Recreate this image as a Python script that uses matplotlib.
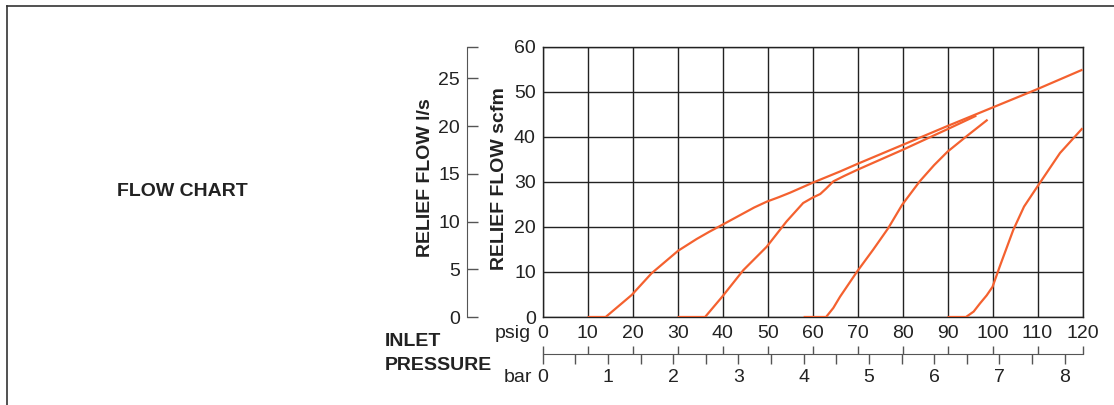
import matplotlib.pyplot as plt
import matplotlib.lines as mlines

plt.rcParams['font.family'] = ['Liberation Sans', 'DejaVu Sans']

# relief flow curves, (inlet pressure psig, relief flow scfm)
set10_psig = [10, 14, 19.8, 24.2, 30.1, 34.2, 37, 39.8, 44.6, 47, 49.8, 52.5, 55, 57.5, 60,
              66.1, 70, 80, 90, 100, 110, 120]
set10_scfm = [0, 0, 4.9, 9.7, 14.7, 17.3, 18.9, 20.4, 23.0, 24.3, 25.6, 26.6, 27.6, 28.7, 29.8,
              32.3, 34.0, 38.2, 42.4, 46.5, 50.6, 54.9]

set30_psig = [30, 36.1, 39.9, 44.6, 49.8, 54.2, 57.9, 60, 61.7, 63, 64.6, 67, 70, 80, 90, 96.4]
set30_scfm = [0, 0, 4.5, 10.4, 15.6, 21.2, 25.3, 26.5, 27.3, 28.5, 30.1, 31.3, 32.7, 37.1, 41.7, 44.7]

set60_psig = [58, 63, 64.6, 66.1, 69.9, 73.5, 76.8, 79.9, 83.8, 87, 90, 94.2, 98.9]
set60_scfm = [0, 0, 2.0, 4.5, 10.1, 15.0, 19.7, 24.9, 30.1, 33.7, 36.7, 40.1, 43.8]

set90_psig = [90, 94.1, 95.8, 97.2, 98.7, 100, 101.6, 104.6, 107, 110, 115, 120]
set90_scfm = [0, 0, 1.2, 3.0, 4.8, 6.7, 11.2, 19.3, 24.5, 29.0, 36.4, 41.9]

psig_ticks = [0, 10, 20, 30, 40, 50, 60, 70, 80, 90, 100, 110, 120]
bar_ticks = [0, 1, 2, 3, 4, 5, 6, 7, 8]
ls_ticks = [0, 5, 10, 15, 20, 25]

PSI_PER_BAR = 14.5038
LS_PER_SCFM = 0.4719

CURVE_COLOR = '#f4612f'
TICK_SIZE = 14
LABEL_SIZE = 14

W, H = 1114, 405
fig = plt.figure(figsize=(W / 100, H / 100), dpi=100)


def px_box(x0, y0, x1, y1):
    # pixel box (top-left origin) -> figure fraction rect
    return [x0 / W, 1 - y1 / H, (x1 - x0) / W, (y1 - y0) / H]


# main chart
ax = fig.add_axes(px_box(542.7, 46.7, 1082.5, 317))
for xs, ys in [(set10_psig, set10_scfm), (set30_psig, set30_scfm),
               (set60_psig, set60_scfm), (set90_psig, set90_scfm)]:
    ax.plot(xs, ys, '-', color=CURVE_COLOR, lw=1.6, solid_capstyle='butt',
            solid_joinstyle='round', zorder=3)
ax.set_xlim(0, 120)
ax.set_ylim(0, 60)
ax.set_xticks(psig_ticks)
ax.set_yticks(range(0, 61, 10))
ax.grid(True, color='#222222', lw=1.0)
ax.tick_params(length=0, labelsize=TICK_SIZE, colors='#222222')
ax.tick_params(axis='y', pad=5)
ax.set_xticklabels([])
for sp in ax.spines.values():
    sp.set_color('#222222')
    sp.set_linewidth(1.0)

# relief flow l/s scale
lax = fig.add_axes(px_box(466.7, 46.7, 470, 317))
lax.set_ylim(0, 60 * LS_PER_SCFM)
lax.set_xticks([])
lax.set_yticks(ls_ticks)
lax.set_yticks([60 * LS_PER_SCFM], minor=True)
lax.tick_params(axis='y', which='both', direction='in', length=8, width=1.0,
                colors='#555555', labelsize=TICK_SIZE, pad=5)
lax.tick_params(axis='y', labelcolor='#222222')
for k in ['top', 'right', 'bottom']:
    lax.spines[k].set_visible(False)
lax.spines['left'].set_color('#555555')
lax.patch.set_visible(False)

# inlet pressure scales (bar below, psig above)
bax = fig.add_axes(px_box(542.7, 353.5, 1082.5, 354))
bax.set_xlim(0, 120)
bax.set_yticks([])
bax.set_xticks([b * PSI_PER_BAR for b in bar_ticks])
bax.set_xticklabels([str(b) for b in bar_ticks])
bax.set_xticks([(b + 0.5) * PSI_PER_BAR for b in bar_ticks[:-1]], minor=True)
bax.tick_params(axis='x', which='both', direction='out', length=7, width=1.0,
                colors='#555555', labelsize=TICK_SIZE, pad=4)
bax.tick_params(axis='x', labelcolor='#222222')
for k in ['top', 'left', 'right']:
    bax.spines[k].set_visible(False)
bax.spines['bottom'].set_color('#555555')
bax.patch.set_visible(False)

pax = bax.twiny()
pax.set_xlim(0, 120)
pax.set_xticks(psig_ticks)
pax.set_xticklabels([str(p) for p in psig_ticks])
pax.tick_params(axis='x', direction='out', length=6, width=1.0,
                colors='#555555', labelsize=TICK_SIZE, pad=2)
pax.tick_params(axis='x', labelcolor='#222222')
for sp in pax.spines.values():
    sp.set_visible(False)

# texts
fig.text(425.7 / W, 1 - 178 / H, 'RELIEF FLOW l/s', rotation=90, ha='center', va='center',
         fontsize=LABEL_SIZE, fontweight='bold', color='#222222')
fig.text(500 / W, 1 - 179 / H, 'RELIEF FLOW scfm', rotation=90, ha='center', va='center',
         fontsize=LABEL_SIZE, fontweight='bold', color='#222222')
fig.text(182 / W, 1 - 191 / H, 'FLOW CHART', ha='center', va='center',
         fontsize=LABEL_SIZE, fontweight='bold', color='#222222')
fig.text(385 / W, 1 - 341 / H, 'INLET', ha='left', va='center',
         fontsize=LABEL_SIZE, fontweight='bold', color='#222222')
fig.text(385 / W, 1 - 366 / H, 'PRESSURE', ha='left', va='center',
         fontsize=LABEL_SIZE, fontweight='bold', color='#222222')
fig.text(531 / W, 1 - 334 / H, 'psig', ha='right', va='center',
         fontsize=TICK_SIZE, color='#222222')
fig.text(532 / W, 1 - 377 / H, 'bar', ha='right', va='center',
         fontsize=TICK_SIZE, color='#222222')

# frame: top and left edges
fig.add_artist(mlines.Line2D([6.5 / W, 1], [1 - 6 / H, 1 - 6 / H], transform=fig.transFigure,
                             color='#333333', lw=1.2))
fig.add_artist(mlines.Line2D([6.5 / W, 6.5 / W], [0, 1 - 6 / H], transform=fig.transFigure,
                             color='#333333', lw=1.2))

fig.savefig('out.png', dpi=100)
